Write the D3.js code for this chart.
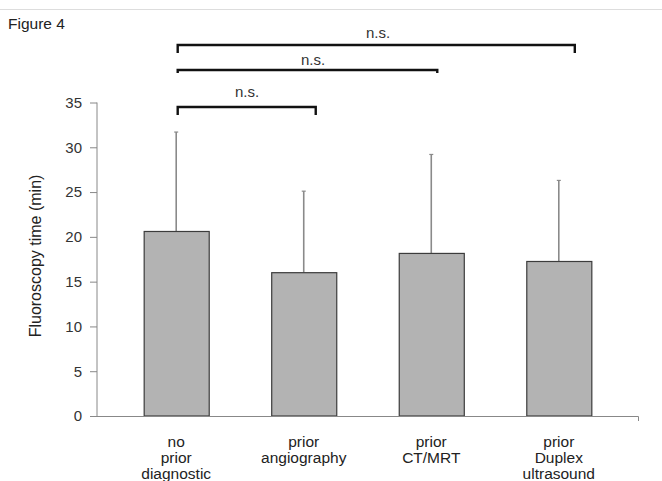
<!DOCTYPE html>
<html><head><meta charset="utf-8">
<script src="https://cdn.jsdelivr.net/npm/d3@7/dist/d3.min.js"></script>
<style>body{margin:0;background:#fff;}svg{display:block;font-family:"Liberation Sans",Arial,sans-serif;}</style>
</head><body>
<svg id="c" width="662" height="481"></svg>
<script>
const categories = [["no","prior","diagnostic"],["prior","angiography"],["prior","CT/MRT"],["prior","Duplex","ultrasound"]];
const means = [20.6, 16.0, 18.15, 17.25];
const sdUpper = [31.7, 25.1, 29.2, 26.3];
const yTicks = [0,5,10,15,20,25,30,35];
const comparisons = [[0,1,"n.s."],[0,2,"n.s."],[0,3,"n.s."]];

const svg = d3.select("#c");
const ids = categories.map((c,i)=>i);
const x = d3.scaleBand().domain(ids).range([97,638]).paddingInner(0.49).paddingOuter(0.366);
const y = d3.scaleLinear().domain([0,35]).range([416,102.5]);

// top separator line
svg.append("line").attr("x1",0).attr("x2",662).attr("y1",9.5).attr("y2",9.5).attr("stroke","#ddd");
svg.append("text").attr("x",8).attr("y",29).attr("font-size",15.5).attr("fill","#222").text("Figure 4");

// y axis
const yAxis = d3.axisLeft(y).tickValues(yTicks).tickSize(7).tickPadding(8);
const gy = svg.append("g").attr("transform","translate(97,0)").call(yAxis);
gy.select(".domain").attr("stroke","#888").attr("d","M0,102.5V416");
gy.selectAll(".tick line").attr("stroke","#888");
gy.selectAll(".tick text").attr("font-size",15).attr("fill","#333").attr("font-family","'Liberation Sans',Arial,sans-serif");

svg.append("text").attr("transform","translate(41,256) rotate(-90)").attr("text-anchor","middle")
  .attr("font-size",16).attr("fill","#222").text("Fluoroscopy time (min)");

// error bars
const eb = svg.append("g");
ids.forEach(i=>{
  const cx = x(i)+x.bandwidth()/2;
  eb.append("line").attr("x1",cx).attr("x2",cx).attr("y1",y(means[i])).attr("y2",y(sdUpper[i]))
    .attr("stroke","#8a8a8a").attr("stroke-width",1.6);
  eb.append("line").attr("x1",cx-2).attr("x2",cx+2).attr("y1",y(sdUpper[i])).attr("y2",y(sdUpper[i]))
    .attr("stroke","#8a8a8a").attr("stroke-width",1.2);
});

// bars
svg.append("g").selectAll("rect").data(ids).join("rect")
  .attr("x",d=>x(d)+0.5).attr("width",x.bandwidth())
  .attr("y",d=>y(means[d])).attr("height",d=>y(0)-y(means[d]))
  .attr("fill","#b3b3b3").attr("stroke","#3c3c3c").attr("stroke-width",1.2);

// x axis
svg.append("path").attr("d","M97,416.5H638.5V421").attr("stroke","#888").attr("fill","none");

// x labels
const gx = svg.append("g");
ids.forEach(i=>{
  const cx = x(i)+x.bandwidth()/2;
  const t = gx.append("text").attr("text-anchor","middle").attr("font-size",15.5).attr("fill","#222");
  categories[i].forEach((ln,k)=>t.append("tspan").attr("x",cx).attr("y",446.5+k*16.4).text(ln));
});

// significance brackets
const bracketLevels = [107,70,45];
const bracketDrop = [8,3,8];
const bracketEndShift = [12,6,16];
const textY = [97,65,38];
const textX = [247,313,378];
comparisons.forEach((c,k)=>{
  const x1 = x(c[0])+x.bandwidth()/2+1.5;
  const x2 = x(c[1])+x.bandwidth()/2+bracketEndShift[k];
  const yy = bracketLevels[k];
  svg.append("path").attr("d",`M${x1},${yy+bracketDrop[k]}V${yy}H${x2}V${yy+bracketDrop[k]}`)
    .attr("fill","none").attr("stroke","#111").attr("stroke-width",2.4);
  svg.append("text").attr("x",textX[k]).attr("y",textY[k]).attr("text-anchor","middle")
    .attr("font-size",15).attr("fill","#333").text(c[2]);
});
</script>
</body></html>
